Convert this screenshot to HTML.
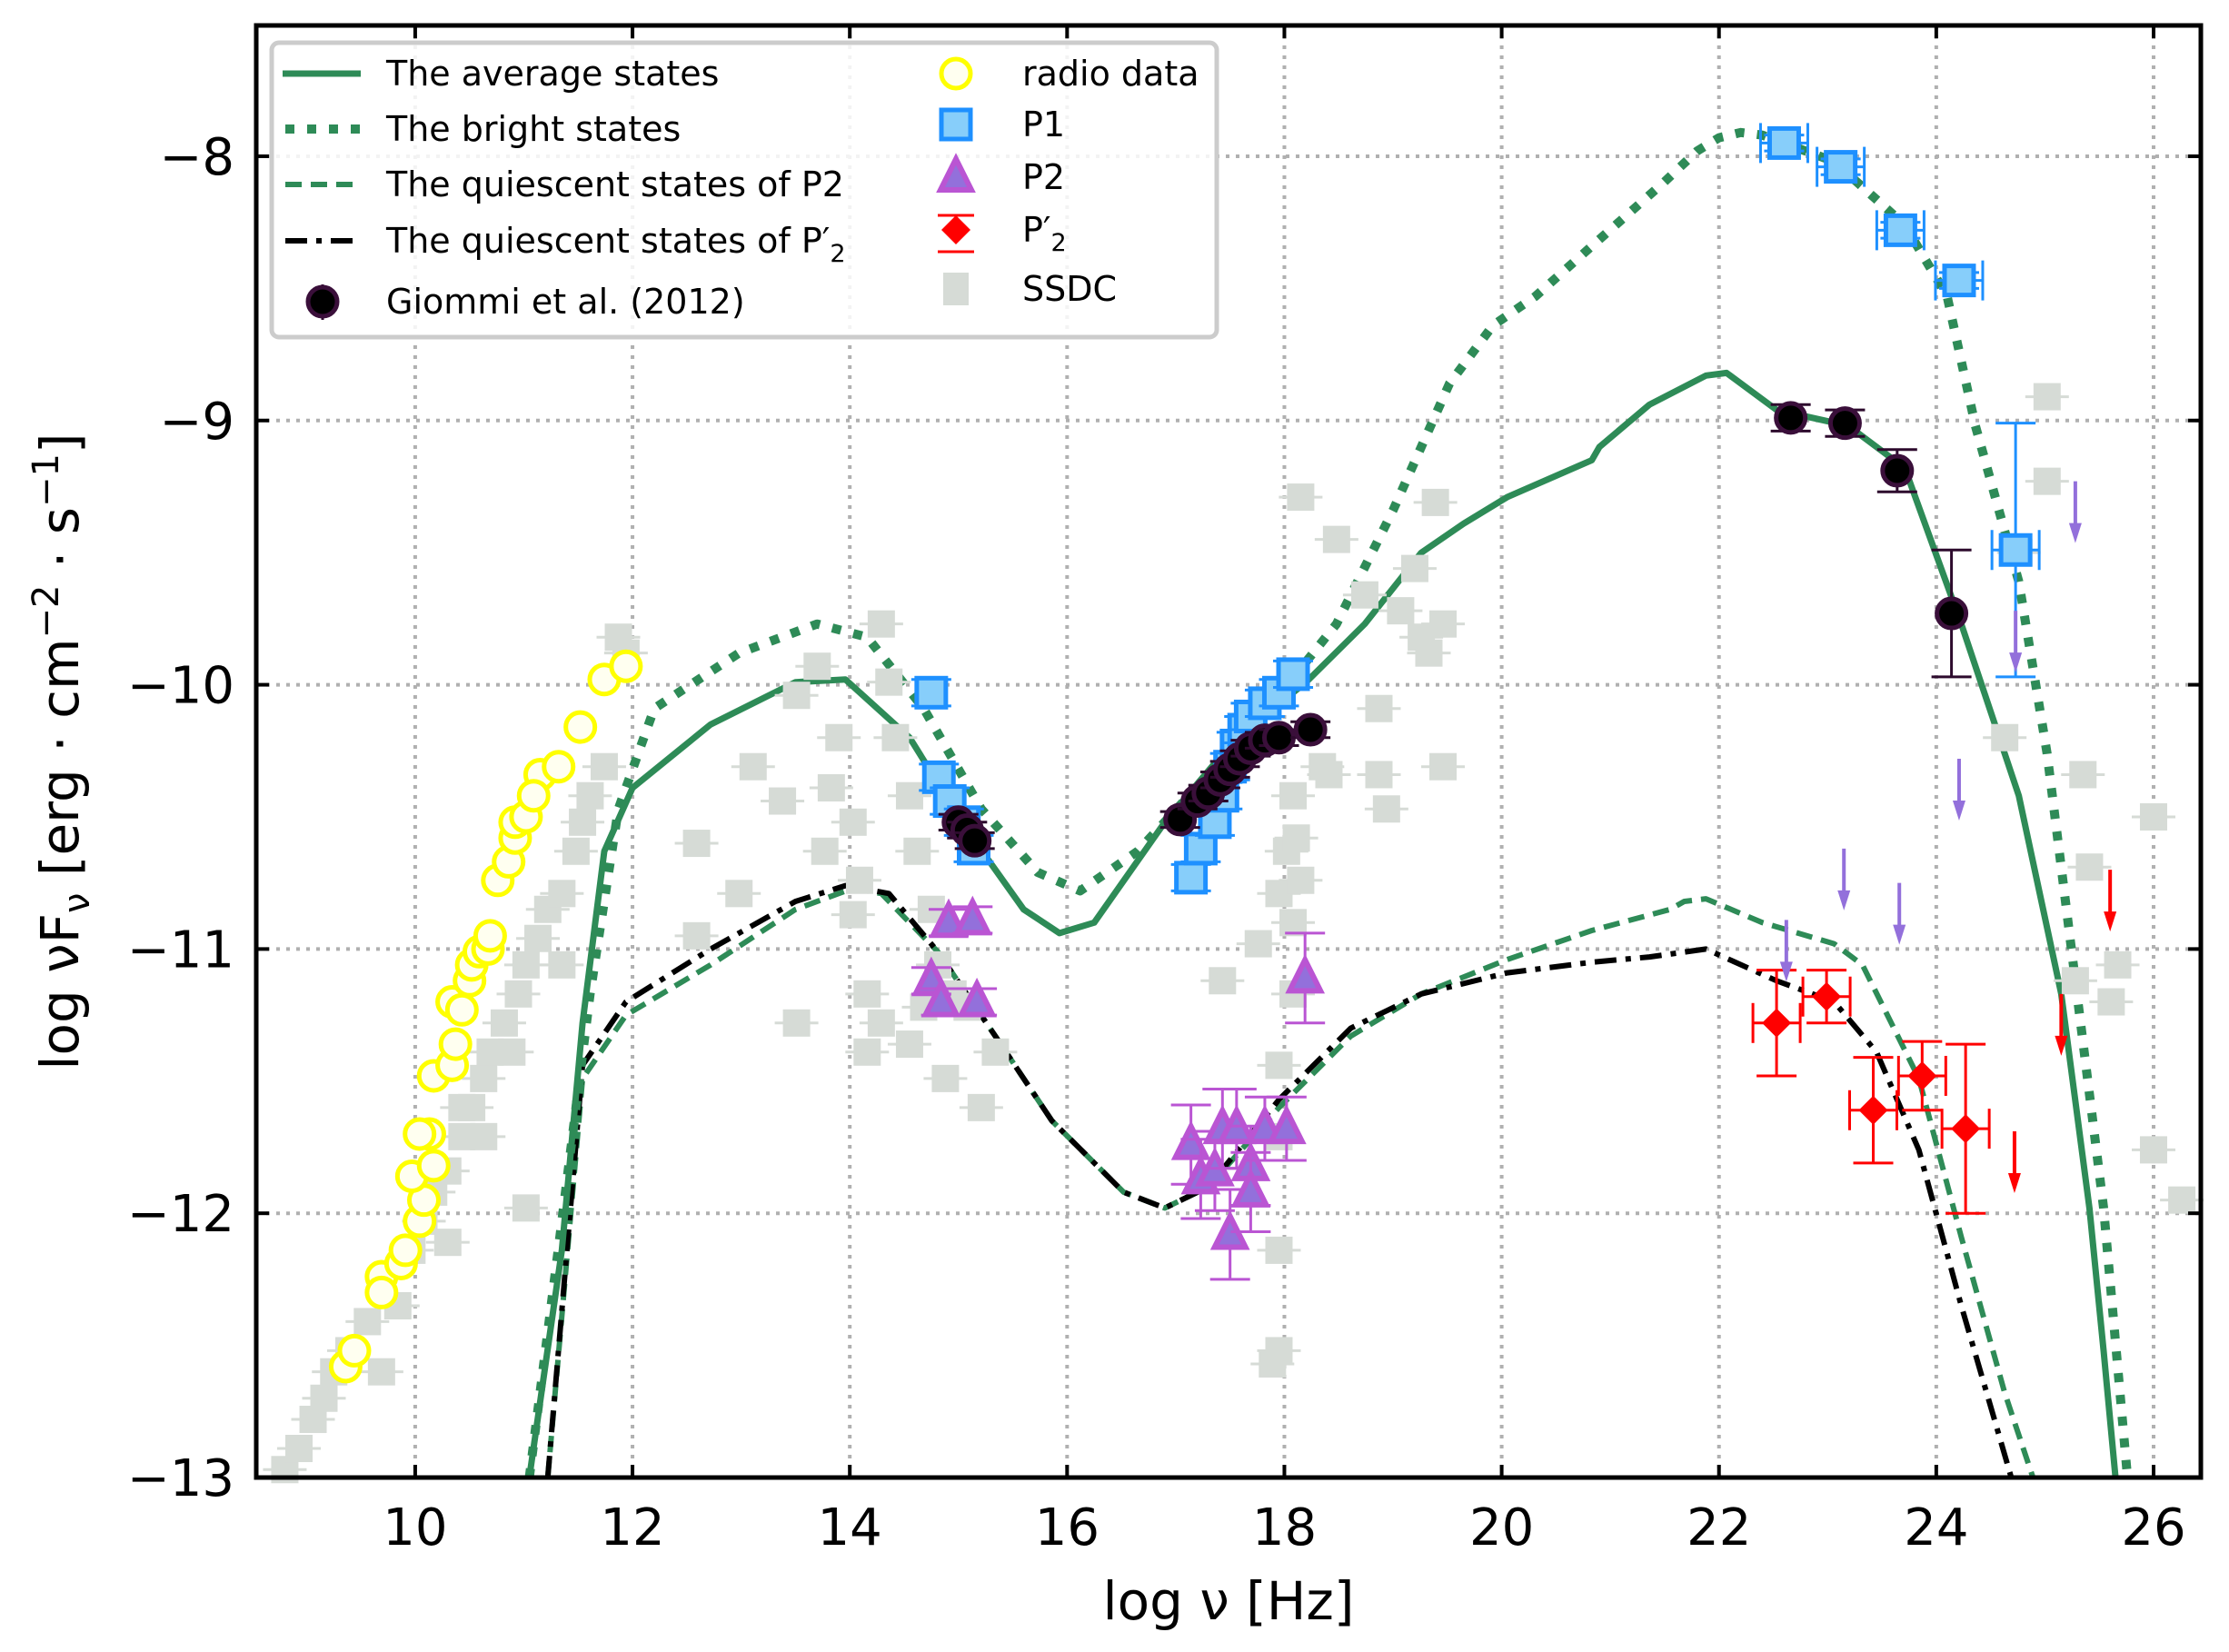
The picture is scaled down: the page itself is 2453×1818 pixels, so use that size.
<!DOCTYPE html>
<html><head><meta charset="utf-8"><style>
html,body{margin:0;padding:0;background:#fff}
svg{display:block}
text{font-family:"DejaVu Sans","Liberation Sans",sans-serif}
</style></head><body>
<svg id="chart" width="2453" height="1818" viewBox="0 0 2453 1818" xmlns="http://www.w3.org/2000/svg">
<g id="grid"></g>
<g id="curves"></g>
<g id="points"></g>
<g id="axes"></g>
<g id="legend"></g>
</svg>
<script>
// ---- data ----
const xTicks=[10,12,14,16,18,20,22,24,26];
const yTicks=[-8,-9,-10,-11,-12,-13];
const avgX=[11.05,11.35,11.54,11.74,12.0,12.72,13.5,13.96,14.55,15.08,15.6,15.93,16.25,16.9,17.56,18.2,18.74,19.26,19.65,20.05,20.83,20.9,21.36,21.88,22.07,22.53,23.19,23.71,24.23,24.76,25.15,25.41,25.54,25.65];
const avgY=[-13,-12.14,-11.28,-10.63,-10.39,-10.15,-9.99,-9.98,-10.2,-10.55,-10.85,-10.94,-10.9,-10.52,-10.2,-9.99,-9.77,-9.5,-9.39,-9.29,-9.15,-9.1,-8.94,-8.83,-8.82,-8.96,-9.02,-9.18,-9.77,-10.42,-11.17,-11.98,-12.52,-13];
const brX=[11.05,11.35,11.61,11.87,12.2,12.98,13.7,14.16,14.68,15.21,15.73,16.12,16.65,17.3,17.95,18.48,19.0,19.52,19.92,20.31,20.83,21.49,21.8,22.0,22.2,22.4,23.06,23.71,24.1,24.36,24.76,25.02,25.28,25.54,25.76];
const brY=[-13,-12.03,-11.17,-10.47,-10.09,-9.88,-9.77,-9.82,-10.09,-10.47,-10.71,-10.78,-10.63,-10.34,-10.04,-9.77,-9.34,-8.86,-8.64,-8.53,-8.34,-8.1,-7.98,-7.93,-7.91,-7.92,-8.02,-8.26,-8.53,-9.02,-9.61,-10.26,-11.12,-11.98,-13];
const q2X=[11.22,11.54,11.94,12.72,13.5,14.03,14.29,14.81,15.34,15.86,16.52,16.9,17.3,17.95,18.61,19.26,20.05,20.83,21.55,21.68,21.88,22.4,23.06,23.32,23.84,24.23,24.63,24.89];
const q2Y=[-13,-11.49,-11.25,-11.06,-10.85,-10.77,-10.79,-11.01,-11.33,-11.65,-11.92,-11.98,-11.9,-11.6,-11.33,-11.17,-11.04,-10.93,-10.85,-10.82,-10.81,-10.9,-10.98,-11.06,-11.49,-12.09,-12.68,-13];
const q2pX=[11.22,11.54,11.94,12.72,13.5,13.96,14.36,14.81,15.34,15.86,16.52,16.9,17.3,17.95,18.61,19.26,20.05,20.83,21.36,21.88,22.53,23.06,23.45,23.84,24.23,24.5,24.69];
const q2pY=[-13,-11.44,-11.2,-11.0,-10.82,-10.76,-10.79,-11.01,-11.33,-11.65,-11.92,-11.98,-11.9,-11.57,-11.3,-11.17,-11.09,-11.05,-11.03,-11.0,-11.12,-11.2,-11.39,-11.76,-12.35,-12.73,-13];
const radioX=[9.36,9.44,9.69,9.69,9.87,9.91,10.04,10.08,9.97,10.17,10.13,10.04,10.17,10.34,10.37,10.34,10.43,10.5,10.52,10.59,10.67,10.69,10.76,10.86,10.92,10.92,11.02,11.15,11.09,11.32,11.52,11.74,11.94];
const radioY=[-12.58,-12.52,-12.24,-12.3,-12.19,-12.14,-12.03,-11.95,-11.86,-11.82,-11.7,-11.7,-11.48,-11.44,-11.36,-11.2,-11.23,-11.12,-11.06,-11.01,-11.0,-10.95,-10.74,-10.67,-10.58,-10.52,-10.5,-10.34,-10.42,-10.31,-10.16,-9.98,-9.93];
const p1X=[14.75,14.82,14.92,15.05,15.14,17.14,17.23,17.36,17.43,17.5,17.56,17.63,17.69,17.82,17.95,18.08,22.6,23.12,23.67,24.21,24.73];
const p1Y=[-10.03,-10.35,-10.44,-10.52,-10.62,-10.73,-10.62,-10.52,-10.42,-10.31,-10.23,-10.17,-10.12,-10.07,-10.03,-9.96,-7.95,-8.04,-8.28,-8.47,-9.49];
const p1Err=[0.05,0.05,0.05,0.05,0.05,0.05,0.05,0.05,0.05,0.05,0.05,0.05,0.05,0.05,0.05,0.05,0.03,0.03,0.03,0.03,0.48];
const gX=[15.0,15.08,15.15,17.04,17.2,17.3,17.41,17.5,17.59,17.69,17.82,17.95,18.24,22.66,23.16,23.64,24.14];
const gY=[-10.52,-10.55,-10.59,-10.51,-10.44,-10.41,-10.36,-10.32,-10.28,-10.24,-10.21,-10.2,-10.17,-8.99,-9.01,-9.19,-9.73];
const gErr=[0.03,0.03,0.03,0.03,0.03,0.03,0.03,0.03,0.03,0.03,0.03,0.03,0.03,0.05,0.05,0.08,0.24];
const p2X=[14.91,15.13,14.75,14.84,15.17,18.19,17.14,17.23,17.36,17.43,17.56,17.69,17.82,18.02,17.5,17.69];
const p2Y=[-10.9,-10.89,-11.12,-11.2,-11.2,-11.11,-11.74,-11.87,-11.84,-11.68,-11.68,-11.82,-11.68,-11.68,-12.08,-11.92];
const p2Err=[0.05,0.05,0.05,0.05,0.05,0.17,0.15,0.15,0.15,0.15,0.15,0.15,0.12,0.12,0.17,0.15];
const rdX=[22.53,22.99,23.42,23.87,24.27];
const rdY=[-11.28,-11.18,-11.61,-11.48,-11.68];
const rdErr=[0.2,0.1,0.2,0.13,0.32];
const ulRedX=[25.6,25.15,24.72];
const ulRedY=[-10.7,-11.17,-11.69];
const ulPurX=[25.28,24.73,24.21,23.15,23.66,22.62];
const ulPurY=[-9.23,-9.72,-10.28,-10.62,-10.75,-10.89];
const ssdcX=[8.8,8.93,9.06,9.16,9.25,9.39,9.56,9.69,9.84,9.97,10.08,10.17,10.3,10.43,10.52,10.63,10.69,10.82,10.95,11.02,11.13,11.22,11.35,11.48,11.54,11.61,11.74,11.87,11.94,10.3,10.63,11.02,10.89,10.43,11.35,12.59,13.11,13.38,13.51,13.7,13.83,13.9,14.03,14.09,14.16,14.29,14.36,14.42,14.55,14.62,14.75,14.81,14.95,15.21,14.16,14.29,14.55,14.68,13.51,12.98,12.59,14.03,13.77,15.34,15.08,14.88,17.43,17.76,17.95,18.02,18.08,18.11,18.15,18.08,18.08,17.95,17.95,17.95,17.89,18.15,18.35,18.41,18.48,18.74,18.87,18.87,18.94,19.07,19.2,19.26,19.39,19.46,19.46,19.33,17.95,25.02,25.02,24.63,25.35,25.41,25.28,25.67,25.61,26.0,26.0,26.26,24.76];
const ssdcY=[-12.97,-12.89,-12.78,-12.7,-12.6,-12.52,-12.41,-12.6,-12.35,-12.14,-12.03,-11.92,-11.84,-11.71,-11.6,-11.49,-11.39,-11.28,-11.17,-11.06,-10.96,-10.85,-10.79,-10.63,-10.52,-10.42,-10.31,-9.82,-9.88,-12.11,-11.71,-11.98,-11.39,-11.6,-11.06,-10.6,-10.31,-10.44,-11.28,-9.93,-10.39,-10.2,-10.52,-10.74,-11.17,-9.77,-9.99,-10.2,-10.42,-10.63,-10.85,-11.06,-11.17,-11.6,-11.39,-11.28,-11.36,-11.22,-10.04,-10.79,-10.95,-10.87,-10.63,-11.39,-11.22,-11.49,-11.12,-10.98,-10.79,-10.63,-10.42,-10.58,-10.74,-10.9,-11.17,-11.44,-11.71,-12.52,-12.57,-9.29,-10.31,-10.34,-9.45,-9.66,-10.09,-10.34,-10.47,-9.72,-9.56,-9.82,-9.31,-9.77,-10.31,-9.88,-12.14,-8.91,-9.23,-10.2,-10.34,-10.69,-11.12,-11.06,-11.2,-10.5,-11.76,-11.95,-9.5];
// ---- axes ----
const L=282,R=2422,T=28,B=1626;
const X0=8.537,X1=26.435,Y0=-13,Y1=-7.505;
const sx=v=>L+(v-X0)/(X1-X0)*(R-L);
const sy=v=>B-(v-Y0)/(Y1-Y0)*(B-T);
const NS='http://www.w3.org/2000/svg';
function mk(tag,attrs,parent){const e=document.createElementNS(NS,tag);for(const k in attrs)e.setAttribute(k,attrs[k]);parent.appendChild(e);return e;}
const grid=document.getElementById('grid'),curves=document.getElementById('curves'),pts=document.getElementById('points'),axes=document.getElementById('axes'),leg=document.getElementById('legend');
xTicks.forEach(t=>{const l=mk('line',{x1:sx(t),x2:sx(t),y1:T,y2:B,stroke:'#b0b0b0','stroke-width':4,'stroke-dasharray':'4,7'},grid);

});
yTicks.forEach(t=>{const l=mk('line',{x1:L,x2:R,y1:sy(t),y2:sy(t),stroke:'#b0b0b0','stroke-width':4,'stroke-dasharray':'4,7'},grid);

});
function path(xs,ys,style,name){let d='';xs.forEach((x,i)=>{d+=(i?'L':'M')+sx(x).toFixed(1)+','+sy(ys[i]).toFixed(1);});
const p=mk('path',Object.assign({d:d,fill:'none','stroke-linejoin':'round'},style),curves);

}
// SSDC
ssdcX.forEach((x,i)=>{const g=mk('g',{},pts);


const cx=sx(x),cy=sy(ssdcY[i]);
mk('line',{x1:cx-24,x2:cx+24,y1:cy,y2:cy,stroke:'#d6dbd6','stroke-width':3},g);
mk('rect',{x:cx-15,y:cy-15,width:30,height:30,fill:'#d6dbd6'},g);});
path(q2X,q2Y,{stroke:'#2e8b57','stroke-width':6,'stroke-dasharray':'18,10'},'quiescent-p2-curve');
path(q2pX,q2pY,{stroke:'#000','stroke-width':6,'stroke-dasharray':'24,10,6,10'},'quiescent-p2prime-curve');
path(avgX,avgY,{stroke:'#2e8b57','stroke-width':7},'average-state-curve');
path(brX,brY,{stroke:'#2e8b57','stroke-width':10,'stroke-dasharray':'10,14'},'bright-state-curve');
// radio
radioX.forEach((x,i)=>{const c=mk('circle',{cx:sx(x),cy:sy(radioY[i]),r:16,fill:'#fffff0',stroke:'#ffff00','stroke-width':5},pts);

});
function errbar(g,cx,cy,ey,hx,col,w){const y1=sy(cy+ey),y2=sy(cy-ey),x=sx(cx);
mk('line',{x1:x,x2:x,y1:y1,y2:y2,stroke:col,'stroke-width':w},g);
mk('line',{x1:x-22,x2:x+22,y1:y1,y2:y1,stroke:col,'stroke-width':w},g);
mk('line',{x1:x-22,x2:x+22,y1:y2,y2:y2,stroke:col,'stroke-width':w},g);
if(hx){mk('line',{x1:x-hx,x2:x+hx,y1:sy(cy),y2:sy(cy),stroke:col,'stroke-width':w},g);
mk('line',{x1:x-hx,x2:x-hx,y1:sy(cy)-22,y2:sy(cy)+22,stroke:col,'stroke-width':w},g);
mk('line',{x1:x+hx,x2:x+hx,y1:sy(cy)-22,y2:sy(cy)+22,stroke:col,'stroke-width':w},g);}}
// P1
p1X.forEach((x,i)=>{const g=mk('g',{},pts);


errbar(g,x,p1Y[i],p1Err[i],x>22?26:0,'#1e90ff',3);
mk('rect',{x:sx(x)-16,y:sy(p1Y[i])-16,width:32,height:32,fill:'#87cefa',stroke:'#1e90ff','stroke-width':5},g);});
// P2
p2X.forEach((x,i)=>{const g=mk('g',{},pts);


errbar(g,x,p2Y[i],p2Err[i],0,'#ba55d3',3);
const cx=sx(x),cy=sy(p2Y[i]);
mk('polygon',{points:`${cx},${cy-20} ${cx-17},${cy+14} ${cx+17},${cy+14}`,fill:'#9370db',stroke:'#ba55d3','stroke-width':6},g);});
// Giommi
gX.forEach((x,i)=>{const g=mk('g',{},pts);


errbar(g,x,gY[i],gErr[i],0,'#2d0a2d',3);
mk('circle',{cx:sx(x),cy:sy(gY[i]),r:16,fill:'#000',stroke:'#3a0f3a','stroke-width':5},g);});
// P2'
rdX.forEach((x,i)=>{const g=mk('g',{},pts);


errbar(g,x,rdY[i],rdErr[i],26,'#ff0000',3);
const cx=sx(x),cy=sy(rdY[i]);
mk('polygon',{points:`${cx},${cy-16} ${cx+16},${cy} ${cx},${cy+16} ${cx-16},${cy}`,fill:'#ff0000'},g);});
function arrow(x,y,col,name){const g=mk('g',{},pts);


const cx=sx(x),cy=sy(y);
mk('line',{x1:cx,x2:cx,y1:cy,y2:cy+52,stroke:col,'stroke-width':4},g);
mk('polygon',{points:`${cx-7},${cy+46} ${cx+7},${cy+46} ${cx},${cy+68}`,fill:col},g);}
ulRedX.forEach((x,i)=>arrow(x,ulRedY[i],'#ff0000','p2prime-upper-limit'));
ulPurX.forEach((x,i)=>arrow(x,ulPurY[i],'#9370db','p2-upper-limit'));
// frame + ticks
const fr=mk('rect',{x:L,y:T,width:R-L,height:B-T,fill:'none',stroke:'#000','stroke-width':5},axes);


xTicks.forEach(t=>{const x=sx(t);
mk('line',{x1:x,x2:x,y1:B,y2:B-14,stroke:'#000','stroke-width':4},axes);
mk('line',{x1:x,x2:x,y1:T,y2:T+14,stroke:'#000','stroke-width':4},axes);
const tx=mk('text',{x:x,y:1700,'font-size':56,'text-anchor':'middle'},axes);tx.textContent=t;

});
yTicks.forEach(t=>{const y=sy(t);
mk('line',{x1:L,x2:L+14,y1:y,y2:y,stroke:'#000','stroke-width':4},axes);
mk('line',{x1:R,x2:R-14,y1:y,y2:y,stroke:'#000','stroke-width':4},axes);
const tx=mk('text',{x:258,y:y+20,'font-size':56,'text-anchor':'end'},axes);tx.textContent='\u2212'+Math.abs(t);

});
</script>
<svg style="position:absolute;left:0;top:0" width="2453" height="1818" viewBox="0 0 2453 1818" xmlns="http://www.w3.org/2000/svg">
<text x="1352" y="1782" font-size="58" text-anchor="middle" font-family="DejaVu Sans, sans-serif">log ν [Hz]</text>
<text transform="translate(86,827) rotate(-90)" font-size="58" text-anchor="middle" font-family="DejaVu Sans, sans-serif">log νF<tspan font-size="40" dy="12">ν</tspan><tspan dy="-12"> [erg · cm</tspan><tspan font-size="40" dy="-22">−2</tspan><tspan dy="22"> · s</tspan><tspan font-size="40" dy="-22">−1</tspan><tspan dy="22">]</tspan></text>
<g font-family="DejaVu Sans, sans-serif" font-size="38">
<rect x="299" y="47" width="1040" height="324" rx="8" fill="#fff" fill-opacity="0.85" stroke="#cccccc" stroke-width="5"/>
<g><line x1="311" x2="397" y1="81" y2="81" stroke="#2e8b57" stroke-width="7"/><text x="425" y="94">The average states</text></g>
<g><line x1="314" x2="397" y1="142" y2="142" stroke="#2e8b57" stroke-width="10" stroke-dasharray="10,14"/><text x="425" y="155">The bright states</text></g>
<g><line x1="314" x2="397" y1="203" y2="203" stroke="#2e8b57" stroke-width="6" stroke-dasharray="18,10"/><text x="425" y="216">The quiescent states of P2</text></g>
<g><line x1="314" x2="397" y1="265" y2="265" stroke="#000" stroke-width="6" stroke-dasharray="24,10,6,10"/><text x="425" y="278">The quiescent states of P′<tspan font-size="27" dy="10">2</tspan></text></g>
<g><line x1="355" x2="355" y1="313" y2="352" stroke="#2d0a2d" stroke-width="3"/><circle cx="355" cy="332" r="16" fill="#000" stroke="#3a0f3a" stroke-width="5"/><text x="425" y="345">Giommi et al. (2012)</text></g>
<g><circle cx="1052" cy="81" r="16" fill="#fffff0" stroke="#ffff00" stroke-width="5"/><text x="1125" y="94">radio data</text></g>
<g><rect x="1036" y="121" width="32" height="32" fill="#87cefa" stroke="#1e90ff" stroke-width="5"/><text x="1125" y="150">P1</text></g>
<g><polygon points="1052,175 1035,209 1069,209" fill="#9370db" stroke="#ba55d3" stroke-width="6"/><text x="1125" y="208">P2</text></g>
<g><polygon points="1052,237 1068,253 1052,269 1036,253" fill="#ff0000"/><line x1="1032" x2="1072" y1="237" y2="237" stroke="#f00" stroke-width="3"/><line x1="1032" x2="1072" y1="277" y2="277" stroke="#f00" stroke-width="3"/><text x="1125" y="266">P′<tspan font-size="27" dy="10">2</tspan></text></g>
<g><rect x="1038" y="300" width="28" height="36" fill="#d6dbd6"/><text x="1125" y="331">SSDC</text></g>
</g>
</svg>
</body></html>
